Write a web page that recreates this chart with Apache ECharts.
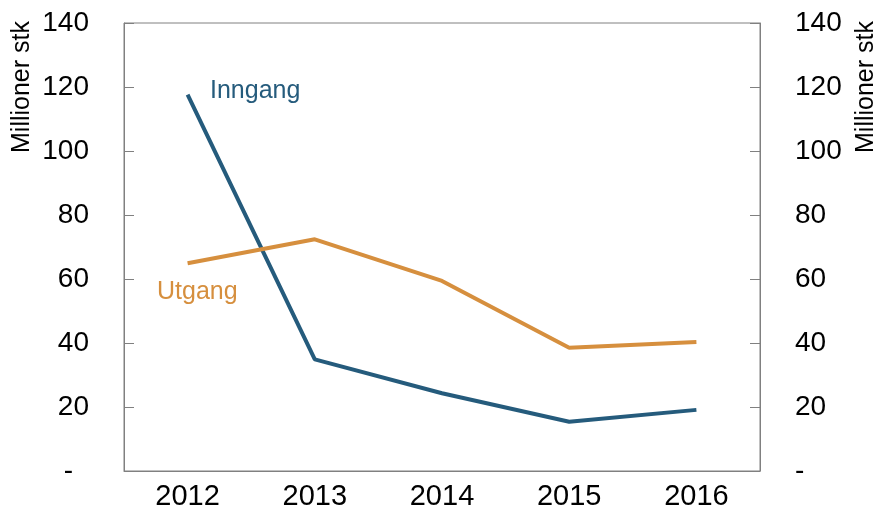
<!DOCTYPE html>
<html>
<head>
<meta charset="utf-8">
<script src="https://cdn.jsdelivr.net/npm/echarts@6/dist/echarts.min.js"></script>
<style>
  html, body { margin: 0; padding: 0; background: #fff; }
  #chart { width: 878px; height: 520px; }
</style>
</head>
<body>
<div id="chart"></div>
<script>
const years = ['2012', '2013', '2014', '2015', '2016'];
const inngang = [117.6, 34.9, 24.3, 15.4, 19.1];
const utgang = [64.9, 72.4, 59.4, 38.5, 40.3];
const yTicks = { min: 0, max: 140, interval: 20 };

const fontFamily = '"Liberation Sans", Arial, sans-serif';
const blue = '#255b7c';
const orange = '#d68f3e';
const axisGrey = '#808080';

const chart = echarts.init(document.getElementById('chart'));

const yAxisBase = {
  type: 'value',
  min: yTicks.min,
  max: yTicks.max,
  interval: yTicks.interval,
  axisLine: { show: true, lineStyle: { color: axisGrey, width: 1 } },
  axisTick: { show: true, inside: true, length: 10, lineStyle: { color: axisGrey } },
  splitLine: { show: false },
};

chart.setOption({
  animation: false,
  backgroundColor: '#fff',
  grid: {
    left: 124, right: 118, top: 23, bottom: 49,
    show: true, borderColor: axisGrey, borderWidth: 1,
  },
  xAxis: {
    type: 'category',
    data: years,
    boundaryGap: true,
    axisLine: { lineStyle: { color: axisGrey, width: 1 } },
    axisTick: { inside: true, length: 10, lineStyle: { color: axisGrey } },
    axisLabel: { color: '#000', fontSize: 29, fontFamily, margin: 11 },
  },
  yAxis: [
    {
      ...yAxisBase,
      position: 'left',
      axisLabel: {
        color: '#000', fontSize: 28, fontFamily, margin: 35,
        formatter: (v) => (v === 0 ? '{d|-}' : String(v)),
        rich: { d: { fontSize: 28, fontFamily, color: '#000', padding: [0, 16, 0, 0] } },
      },
    },
    {
      ...yAxisBase,
      position: 'right',
      axisLabel: {
        color: '#000', fontSize: 28, fontFamily, margin: 35,
        formatter: (v) => (v === 0 ? '-' : String(v)),
      },
    },
  ],
  graphic: [
    {
      type: 'text', x: 22, y: 87, rotation: Math.PI / 2,
      style: { text: 'Millioner stk', font: '25px ' + fontFamily, fill: '#000', align: 'center', verticalAlign: 'middle' },
    },
    {
      type: 'text', x: 866, y: 87, rotation: Math.PI / 2,
      style: { text: 'Millioner stk', font: '25px ' + fontFamily, fill: '#000', align: 'center', verticalAlign: 'middle' },
    },
    {
      type: 'text', x: 210, y: 91,
      style: { text: 'Inngang', font: '25px ' + fontFamily, fill: blue, align: 'left', verticalAlign: 'middle' },
    },
    {
      type: 'text', x: 157, y: 292,
      style: { text: 'Utgang', font: '25px ' + fontFamily, fill: orange, align: 'left', verticalAlign: 'middle' },
    },
  ],
  series: [
    {
      name: 'Inngang', type: 'line', data: inngang, yAxisIndex: 0,
      symbol: 'none', lineStyle: { color: blue, width: 4 }, itemStyle: { color: blue },
    },
    {
      name: 'Utgang', type: 'line', data: utgang, yAxisIndex: 0,
      symbol: 'none', lineStyle: { color: orange, width: 4 }, itemStyle: { color: orange },
    },
  ],
});
</script>
</body>
</html>
